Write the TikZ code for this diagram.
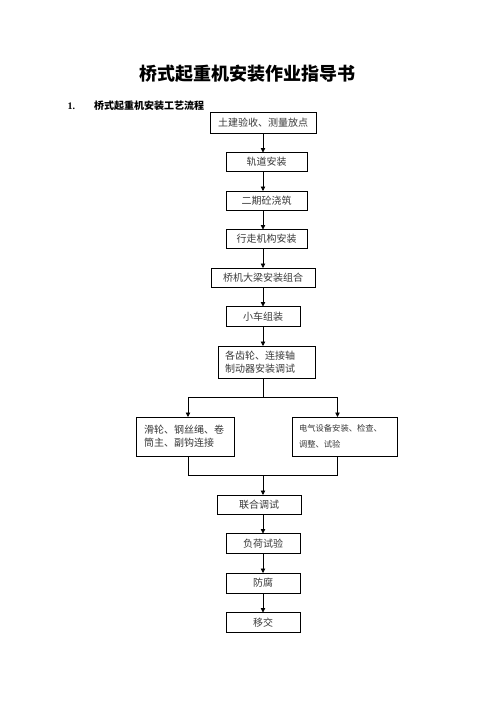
\documentclass[tikz,border=0pt]{standalone}
\usepackage{fontspec}
\setmainfont{Liberation Serif}
\newfontfamily\cjk{Noto Sans CJK SC}
\usetikzlibrary{arrows.meta,positioning}
\definecolor{ink}{HTML}{000000}
\definecolor{boxtext}{HTML}{3A3A3A}
\tikzset{box/.style={draw=ink,line width=0.8pt,minimum height=19pt,inner sep=2pt,outer sep=0pt,
  font=\cjk\fontsize{10}{12}\selectfont,text=boxtext},
  twoline/.style={box,align=left,font=\cjk\fontsize{10}{13}\selectfont},
  arrow/.style={-{Triangle[length=4.5pt,width=4.5pt]},line width=0.8pt,draw=ink},
  link/.style={line width=0.8pt,draw=ink}}

\begin{document}
\begin{tikzpicture}[x=1pt,y=-1pt,node distance=19.5pt]
\useasboundingbox[fill=white] (0,0) rectangle (496,702);
\node[font=\cjk\bfseries\fontsize{18}{20}\selectfont] (title) at (247.5,73.5) {桥式起重机安装作业指导书};
\node[anchor=west,font=\bfseries\fontsize{10}{12}\selectfont] (sec) at (64,105.5)
{1.\hspace{19pt}{\cjk 桥式起重机安装工艺流程}};
\node[box,minimum width=106pt,minimum height=21pt] (tujian) at (263,122.5) {土建验收、测量放点};
\node[box,minimum width=81pt,below=of tujian,xshift=3.5pt] (guidao) {轨道安装};
\node[box,minimum width=81pt,below=of guidao] (erqi) {二期砼浇筑};
\node[box,minimum width=81pt,below=of erqi] (xingzou) {行走机构安装};
\node[box,minimum width=104pt,below=of xingzou,xshift=-3.5pt] (daliang) {桥机大梁安装组合};
\node[box,minimum width=74pt,minimum height=20pt,below=of daliang] (xiaoche) {小车组装};
\node[twoline,text width=83pt,inner xsep=7pt,minimum height=32pt,below=of xiaoche,xshift=3.5pt] (chilun)
{各齿轮、连接轴\\制动器安装调试};
\node[twoline,text width=82pt,inner xsep=8pt,minimum height=39pt,below=39pt of chilun,xshift=-81.5pt] (hualun)
{滑轮、钢丝绳、卷\\筒主、副钩连接};
\node[twoline,text width=91pt,inner xsep=7pt,minimum height=39pt,right=58pt of hualun,
  font=\cjk\fontsize{8.3}{16}\selectfont] (dianqi)
{电气设备安装、检查、\\调整、试验};
\node[box,minimum width=84pt,anchor=north] (lianhe) at ([yshift=-39pt,xshift=-4pt]hualun.south -| xiaoche) {联合调试};
\node[box,minimum width=74pt,minimum height=20pt,below=of lianhe,xshift=4pt] (fuhe) {负荷试验};
\node[box,minimum width=74pt,minimum height=20pt,below=of fuhe] (fangfu) {防腐};
\node[box,minimum width=74pt,minimum height=20pt,below=of fangfu] (yijiao) {移交};
\draw[arrow] (tujian) -- (guidao.north -| tujian);
\draw[arrow] (guidao.south -| tujian) -- (erqi.north -| tujian);
\draw[arrow] (erqi.south -| tujian) -- (xingzou.north -| tujian);
\draw[arrow] (xingzou.south -| tujian) -- (daliang.north);
\draw[arrow] (daliang) -- (xiaoche);
\draw[arrow] (xiaoche) -- (chilun.north -| xiaoche);
\draw[link] (chilun.south -| xiaoche) -- ++(0,19.5) coordinate (fen);
\draw[arrow] (fen) -| ([xshift=3pt]hualun.north);
\draw[arrow] (fen) -| ([xshift=-7pt]dianqi.north);
\coordinate (he) at ([yshift=-19.5pt]hualun.south -| xiaoche);
\draw[link] ([xshift=3pt]hualun.south) |- (he) -| ([xshift=-7pt]dianqi.south);
\draw[arrow] (he) -- (lianhe.north -| he);
\draw[arrow] (lianhe.south -| fuhe) -- (fuhe);
\draw[arrow] (fuhe) -- (fangfu);
\draw[arrow] (fangfu) -- (yijiao);
\end{tikzpicture}
\end{document}
